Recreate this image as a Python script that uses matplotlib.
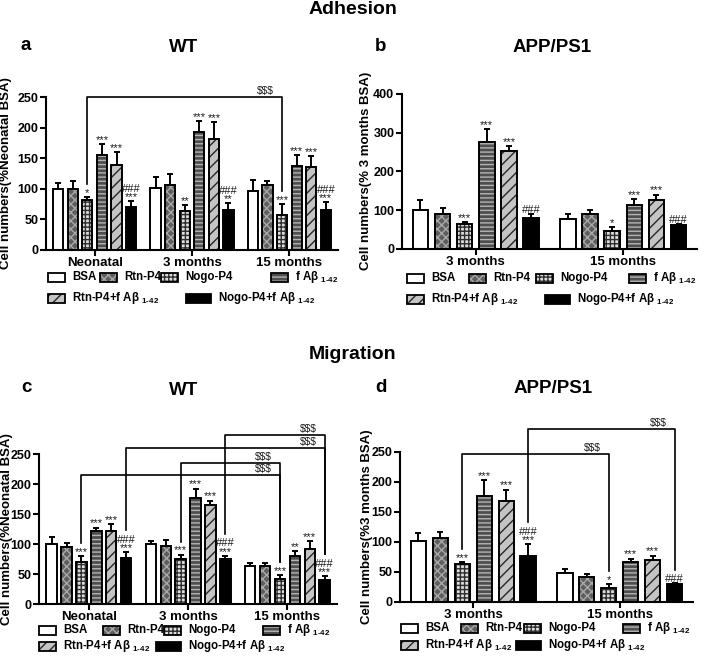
import matplotlib
matplotlib.use("Agg")
import matplotlib.pyplot as plt
from matplotlib.patches import Rectangle

plt.rcParams['font.family'] = ['Liberation Sans', 'DejaVu Sans']
plt.rcParams['mathtext.fontset'] = 'custom'
plt.rcParams['mathtext.rm'] = 'Liberation Sans:bold'
plt.rcParams['mathtext.bf'] = 'Liberation Sans:bold'
plt.rcParams['hatch.linewidth'] = 1.0

# ---------------------------------- Data ----------------------------------
sub = r" $_{\text{1-42}}$"
treatments = ["BSA", "Rtn-P4", "Nogo-P4", "f A\u03b2" + sub,
              "Rtn-P4+f A\u03b2" + sub, "Nogo-P4+f A\u03b2" + sub]

ages_wt = ["Neonatal", "3 months", "15 months"]
ages_tg = ["3 months", "15 months"]

# Adhesion WT (% neonatal BSA), mean and SEM per age group
a_mean = [[99, 100, 81, 156, 139, 70],
          [101, 107, 63, 193, 182, 65],
          [96, 106, 57, 137, 136, 65]]
a_sem = [[10, 13, 5, 17, 21, 10],
         [18, 17, 11, 18, 27, 11],
         [18, 7, 18, 18, 18, 13]]
a_marks = [["", "", "*", "***", "***", "###\n***"],
           ["", "", "**", "***", "***", "###\n**"],
           ["", "", "***", "***", "***", "###\n***"]]

# Adhesion APP/PS1 (% 3 months BSA)
b_mean = [[101, 89, 63, 277, 253, 79],
          [76, 89, 47, 113, 126, 61]]
b_sem = [[25, 16, 6, 32, 12, 12],
         [15, 10, 9, 15, 14, 4]]
b_marks = [["", "", "***", "***", "***", "###"],
           ["", "", "*", "***", "***", "###"]]

# Migration WT (% neonatal BSA)
c_mean = [[100, 96, 70, 122, 123, 78],
          [100, 98, 75, 178, 166, 76],
          [64, 64, 42, 80, 93, 40]]
c_sem = [[12, 7, 11, 6, 11, 9],
         [6, 10, 8, 15, 7, 5],
         [5, 5, 7, 9, 13, 7]]
c_marks = [["", "", "***", "***", "***", "###\n***"],
           ["", "", "***", "***", "***", "###\n***"],
           ["", "", "***", "**", "***", "###\n***"]]

# Migration APP/PS1 (% 3 months BSA)
d_mean = [[101, 106, 63, 177, 168, 77],
          [48, 42, 23, 66, 70, 30]]
d_sem = [[13, 11, 3, 26, 19, 19],
         [6, 4, 6, 6, 7, 2]]
d_marks = [["", "", "***", "***", "***", "###\n***"],
           ["", "", "*", "***", "***", "###"]]

# $$$ comparisons: ((group, bar), (group, bar), bracket height)
a_brackets = [((0, 2), (2, 2), 250)]
b_brackets = []
c_brackets = [((0, 2), (2, 2), 215), ((1, 2), (2, 2), 235),
              ((0, 5), (2, 5), 261), ((1, 5), (2, 5), 283)]
d_brackets = [((0, 2), (1, 2), 247), ((0, 5), (1, 5), 288)]

# ---------------------------------- Style ----------------------------------
W, H = 707, 656
fig = plt.figure(figsize=(W / 100, H / 100), dpi=100)

styles = [
    dict(fc='white', hatch=None, hc='black'),
    dict(fc='#5e5e5e', hatch='xxxx', hc='#a8a8a8'),
    dict(fc='#dedede', hatch='++++', hc='#2e2e2e'),
    dict(fc='#4e4e4e', hatch='----', hc='#b4b4b4'),
    dict(fc='#c4c4c4', hatch='///', hc='#262626'),
    dict(fc='black', hatch=None, hc='black'),
]
bw = 0.105    # bar width
pitch = 0.15  # bar spacing within a group
lw = 1.4


def bar_x(g, k):
    return g + (k - 2.5) * pitch


def px_per_unit(ax):
    return ax.get_position().height * H / ax.get_ylim()[1]


def draw_panel(rect, means, sems, marks, brackets, ages, ymax, ystep, ylabel, ylab_x):
    l, t, r, b = rect
    ax = fig.add_axes([l / W, 1 - b / H, (r - l) / W, (b - t) / H])
    ax.set_xlim(-0.5, len(ages) - 0.5)
    ax.set_ylim(0, ymax)
    ppu = px_per_unit(ax)
    for g in range(len(ages)):
        for k in range(6):
            st = styles[k]
            x = bar_x(g, k)
            m, s = means[g][k], sems[g][k]
            ax.bar(x, m, width=bw, color=st['fc'], edgecolor=st['hc'],
                   hatch=st['hatch'], linewidth=0, zorder=2)
            ax.bar(x, m, width=bw, fill=False, edgecolor='black', linewidth=lw, zorder=3)
            ax.errorbar(x, m, yerr=[[0], [s]], fmt='none', ecolor='black',
                        elinewidth=lw, capsize=2.3, capthick=lw, zorder=1)
            if marks[g][k]:
                ax.annotate(marks[g][k], xy=(x, m + s), xytext=(0, -1),
                            textcoords='offset pixels', ha='center', va='bottom',
                            fontsize=8, linespacing=0.8, color='#1a1a1a',
                            annotation_clip=False)
    for (g1, k1), (g2, k2), level in brackets:
        x1, x2 = bar_x(g1, k1), bar_x(g2, k2)
        n1 = marks[g1][k1].count('\n') + 1
        n2 = marks[g2][k2].count('\n') + 1
        y1 = means[g1][k1] + sems[g1][k1] + (4 + 9 * n1) / ppu
        y2 = means[g2][k2] + sems[g2][k2] + (4 + 9 * n2) / ppu
        ax.plot([x1, x1, x2, x2], [y1, level, level, y2], color='black',
                lw=1.2, clip_on=False, zorder=4)
        ax.annotate(r'\$\$\$', xy=(x2, level), xytext=(-8, 1),
                    textcoords='offset pixels', ha='right', va='bottom',
                    fontsize=7.5, color='#1a1a1a', annotation_clip=False)

    for side in ['top', 'right']:
        ax.spines[side].set_visible(False)
    for side in ['left', 'bottom']:
        ax.spines[side].set_linewidth(1.5)
    ax.set_yticks(range(0, ymax + 1, ystep))
    ax.set_xticks(range(len(ages)))
    ax.set_xticklabels(ages)
    ax.tick_params(axis='both', width=1.5, length=4, labelsize=9, pad=1.5)
    ax.tick_params(axis='x', labelsize=9.5, pad=1)
    for lab in ax.get_xticklabels() + ax.get_yticklabels():
        lab.set_fontweight('bold')
    ax.set_ylabel(ylabel, fontsize=9.5, fontweight='bold')
    ax.yaxis.set_label_coords(ylab_x, 0.5)
    return ax


def legend_rows(rows):
    # rows: list of (text y px, [(entry index, text x px), ...])
    for ty, items in rows:
        for k, tx in items:
            st = styles[k]
            pw = 25 if k == 5 else 17
            ph = 9
            x0 = tx - pw - 7
            for kw in [dict(facecolor=st['fc'], edgecolor=st['hc'], hatch=st['hatch'], linewidth=0),
                       dict(fill=False, edgecolor='black', linewidth=1.3)]:
                fig.add_artist(Rectangle((x0 / W, 1 - (ty + ph / 2) / H), pw / W, ph / H,
                                         transform=fig.transFigure, **kw))
            fig.text(tx / W, 1 - ty / H, treatments[k], ha='left', va='center',
                     fontsize=8.3, fontweight='bold')


def fig_text(x, y, s, size=13.5):
    fig.text(x / W, 1 - y / H, s, ha='center', va='baseline', fontsize=size, fontweight='bold')


# ---------------------------------- Panels ----------------------------------
draw_panel((46, 97, 338, 250), a_mean, a_sem, a_marks, a_brackets, ages_wt,
           250, 50, "Cell numbers(%Neonatal BSA)", -0.115)
draw_panel((402, 94, 697, 248.7), b_mean, b_sem, b_marks, b_brackets, ages_tg,
           400, 100, "Cell numbers(% 3 months BSA)", -0.10)
draw_panel((39.3, 454.3, 337, 604.3), c_mean, c_sem, c_marks, c_brackets, ages_wt,
           250, 50, "Cell numbers(%Neonatal BSA)", -0.09)
draw_panel((400, 451.7, 693, 601.7), d_mean, d_sem, d_marks, d_brackets, ages_tg,
           250, 50, "Cell numbers(%3 months BSA)", -0.092)

legend_rows([(277, [(0, 72), (1, 124), (2, 185), (3, 295)]),
             (298, [(4, 72), (5, 218)])])
legend_rows([(278, [(0, 431), (1, 493), (2, 560), (3, 653)]),
             (299, [(4, 431), (5, 577)])])
legend_rows([(630, [(0, 63), (1, 127), (2, 188), (3, 287)]),
             (646, [(4, 63), (5, 188)])])
legend_rows([(628, [(0, 425), (1, 485), (2, 548), (3, 647)]),
             (645, [(4, 425), (5, 548)])])

fig_text(353, 14, "Adhesion", 14)
fig_text(26, 50, "a")
fig_text(184, 52, "WT")
fig_text(381, 51, "b")
fig_text(552, 52, "APP/PS1")
fig_text(353, 359, "Migration", 14)
fig_text(26, 392, "c")
fig_text(184, 395, "WT")
fig_text(381, 392, "d")
fig_text(553, 393, "APP/PS1")

fig.savefig("out.png", dpi=100)
